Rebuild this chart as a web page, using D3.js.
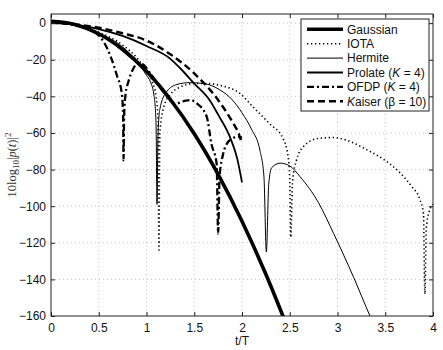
<!DOCTYPE html>
<html lang="en">
<head>
<meta charset="UTF-8">
<title>Pulse shapes in dB</title>
<script src="https://d3js.org/d3.v7.min.js"></script>
<style>
  body { margin: 0; background: #fff; }
  text { font-family: "Liberation Sans", Arial, sans-serif; }
</style>
</head>
<body>
<svg width="443" height="350"></svg>
<script>
// values (t/T, dB)
var gaussT = [0, 0.25, 0.5, 0.75, 1, 1.25, 1.5, 1.75, 2, 2.25, 2.45];
var gaussDb = [1, -0.7, -5.8, -14.4, -26.3, -41.7, -60.4, -82.6, -108.2, -137.2, -162.8];

var iotaT = [0, 0.25, 0.5, 0.75, 0.9, 1.0, 1.06, 1.1, 1.12, 1.13, 1.14, 1.18, 1.25, 1.35, 1.5, 1.65, 1.77, 1.98, 2.12, 2.29, 2.43, 2.48, 2.5, 2.51, 2.53, 2.57, 2.65, 2.8, 2.95, 3.1, 3.3, 3.5, 3.65, 3.78, 3.86, 3.9, 3.915, 3.93, 3.96, 4.0];
var iotaDb = [0.5, -1.2, -5, -12, -19, -26, -32, -40, -52, -125, -60, -46, -39, -35, -33, -33, -34, -38.5, -46, -55, -63, -72, -86, -117, -86, -75, -67, -63, -62.5, -64, -69, -75, -81.5, -89.5, -96, -104, -148, -112, -103, -99];

var hermT = [0, 0.25, 0.5, 0.75, 0.9, 1.0, 1.04, 1.08, 1.1, 1.11, 1.12, 1.14, 1.21, 1.32, 1.45, 1.6, 1.77, 1.9, 2.0, 2.1, 2.19, 2.23, 2.255, 2.28, 2.31, 2.4, 2.5, 2.61, 2.8, 2.96, 3.17, 3.34, 3.4];
var hermDb = [0.5, -1.3, -5.5, -13, -21, -28.5, -32, -40, -55, -99, -62, -47, -37.5, -33.5, -32.5, -33, -36.5, -42, -49, -58, -70, -84, -125, -88, -79, -76.5, -78, -84, -98, -115, -139, -160, -167];

var prolT = [0, 0.25, 0.5, 0.75, 1, 1.25, 1.35, 1.5, 1.66, 1.75, 1.88, 1.95, 2.0];
var prolDb = [0, -0.8, -3.2, -7, -12.5, -19.5, -24.5, -33, -42, -50, -63, -74, -87];

var ofdpT = [0, 0.25, 0.48, 0.62, 0.69, 0.74, 0.755, 0.76, 0.765, 0.78, 0.81, 0.86, 0.91, 0.96, 1.04, 1.18, 1.3, 1.4, 1.46, 1.53, 1.63, 1.68, 1.735, 1.75, 1.765, 1.8, 1.84, 1.9, 1.95, 2.0];
var ofdpDb = [0.5, -1, -5.8, -17.6, -28.6, -38, -50, -75, -52, -39, -32, -25, -22, -22.5, -27.5, -37.7, -44, -42.5, -42, -44, -51, -66, -77, -115, -84, -72, -66, -63, -62, -62.5];

var kaisT = [0, 0.25, 0.5, 0.75, 1, 1.25, 1.5, 1.75, 1.9, 1.97, 2.0];
var kaisDb = [0.3, -0.6, -2.5, -5.5, -9.5, -17, -27.5, -42, -54, -61, -66];

var legendNames = ["Gaussian", "IOTA", "Hermite", "Prolate (K = 4)", "OFDP (K = 4)", "Kaiser (\u03b2 = 10)"];
var xTicks = [0, 0.5, 1, 1.5, 2, 2.5, 3, 3.5, 4];
var yTicks = [0, -20, -40, -60, -80, -100, -120, -140, -160];

var series = [
  { t: gaussT, db: gaussDb, w: 3.6, dash: null },
  { t: iotaT, db: iotaDb, w: 1.6, dash: "1.3,2.7" },
  { t: hermT, db: hermDb, w: 1, dash: null },
  { t: prolT, db: prolDb, w: 1.8, dash: null },
  { t: ofdpT, db: ofdpDb, w: 2.3, dash: "7,3,2,3" },
  { t: kaisT, db: kaisDb, w: 2.4, dash: "7,4" }
];

var svg = d3.select("svg");
var x = d3.scaleLinear().domain([0, 4]).range([51, 433]);
var y = d3.scaleLinear().domain([-160, 5]).range([316, 14]);

svg.append("defs").append("clipPath").attr("id", "plot")
  .append("rect").attr("x", 51).attr("y", 14).attr("width", 382).attr("height", 302);

// grid
var grid = svg.append("g").attr("stroke", "#b5b5b5").attr("stroke-width", 0.8).attr("stroke-dasharray", "1,3");
grid.selectAll(".gx").data(xTicks.slice(1, -1)).enter().append("line")
  .attr("x1", d => x(d)).attr("x2", d => x(d)).attr("y1", 14).attr("y2", 316);
grid.selectAll(".gy").data(yTicks.slice(0, -1)).enter().append("line")
  .attr("y1", d => y(d)).attr("y2", d => y(d)).attr("x1", 51).attr("x2", 433);

// curves
var line = d3.line().x(d => x(d[0])).y(d => y(d[1])).curve(d3.curveMonotoneX);
var curves = svg.append("g").attr("clip-path", "url(#plot)");
series.forEach(function(s) {
  var pts = s.t.map((t, i) => [t, s.db[i]]);
  curves.append("path").attr("d", line(pts))
    .attr("fill", "none").attr("stroke", "#000")
    .attr("stroke-width", s.w)
    .attr("stroke-dasharray", s.dash);
});

// axes box and ticks
svg.append("rect").attr("x", 51).attr("y", 14).attr("width", 382).attr("height", 302)
  .attr("fill", "none").attr("stroke", "#222").attr("stroke-width", 1);

var axB = d3.axisBottom(x).tickValues(xTicks).tickSize(-4).tickPadding(7).tickFormat(d3.format("~g"));
var axT = d3.axisTop(x).tickValues(xTicks).tickSize(-4).tickFormat("");
var axL = d3.axisLeft(y).tickValues(yTicks).tickSize(-4).tickPadding(5).tickFormat(d => d3.format("~g")(d).replace("-", "\u2212"));
var axR = d3.axisRight(y).tickValues(yTicks).tickSize(-4).tickFormat("");

[[axB, "translate(0,316)"], [axT, "translate(0,14)"], [axL, "translate(51,0)"], [axR, "translate(433,0)"]].forEach(function(a) {
  var g = svg.append("g").attr("transform", a[1]).call(a[0]);
  g.select(".domain").remove();
  g.selectAll("line").attr("stroke", "#222");
  g.selectAll("text").attr("font-family", "Liberation Sans, Arial, sans-serif")
    .attr("font-size", 12).attr("fill", "#111");
});

// axis labels
svg.append("text").attr("x", 242).attr("y", 345).attr("text-anchor", "middle")
  .attr("font-size", 12).attr("fill", "#111").text("t/T");

var yl = svg.append("text").attr("transform", "translate(16,165) rotate(-90)")
  .attr("text-anchor", "middle").attr("font-size", 12.5).attr("fill", "#333")
  .style("font-family", "Liberation Serif, Times New Roman, serif");
yl.append("tspan").text("10log");
yl.append("tspan").attr("font-size", 9).attr("dy", 3).text("10");
yl.append("tspan").attr("dy", -3).text("|");
yl.append("tspan").attr("font-style", "italic").text("p");
yl.append("tspan").text("(");
yl.append("tspan").attr("font-style", "italic").text("t");
yl.append("tspan").text(")|");
yl.append("tspan").attr("font-size", 9).attr("dy", -5).text("2");

// legend
var leg = svg.append("g");
leg.append("rect").attr("x", 301).attr("y", 19).attr("width", 128).attr("height", 92)
  .attr("fill", "#fff").attr("stroke", "#222").attr("stroke-width", 1);
legendNames.forEach(function(name, i) {
  var yy = 29.3 + i * 14.4;
  var s = series[i];
  leg.append("line").attr("x1", 307).attr("x2", 343).attr("y1", yy).attr("y2", yy)
    .attr("stroke", "#000").attr("stroke-width", s.w).attr("stroke-dasharray", s.dash);
  var tx = leg.append("text").attr("x", 347).attr("y", yy + 4.3).attr("font-size", 12).attr("fill", "#111");
  var parts = name.split("K");
  if (parts.length > 1) {
    tx.append("tspan").text(parts[0]);
    tx.append("tspan").attr("font-style", "italic").text("K");
    tx.append("tspan").text(parts[1]);
  } else {
    tx.text(name);
  }
});
</script>
</body>
</html>
